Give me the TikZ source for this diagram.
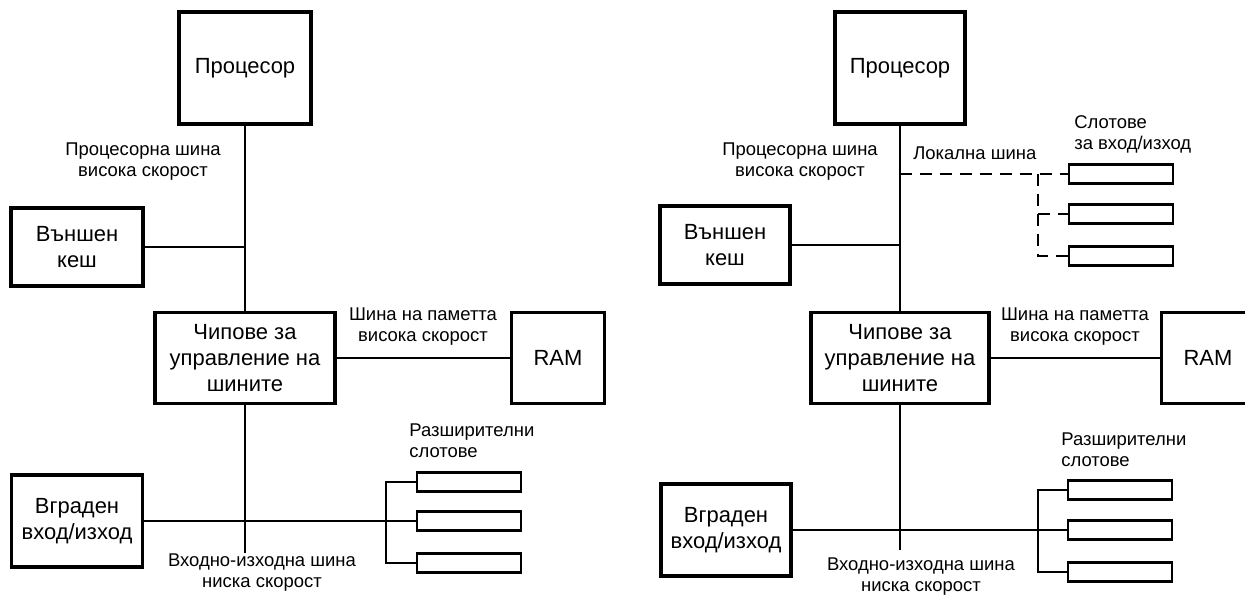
\documentclass[tikz,border=0pt]{standalone}
\usepackage{fontspec}
\setmainfont{Liberation Sans}
\usetikzlibrary{calc}
\tikzset{
  blok/.style={draw,line width=1.9pt,align=center,inner sep=0pt,font=\fontsize{12.5}{15}\selectfont},
  slot/.style={draw,line width=1.6pt,minimum width=2.08cm,minimum height=0.38cm,inner sep=0pt},
  lbl/.style={align=center,inner sep=0pt,font=\fontsize{10.5}{12}\selectfont},
  wire/.style={line width=0.8pt},
  dwire/.style={wire,dash pattern=on 0.24cm off 0.16cm}
}

\begin{document}
\begin{tikzpicture}[x=0.02cm,y=-0.02cm]
  \fill[white] (0,0) rectangle (1245,595);
  \useasboundingbox (0,0) rectangle (1245,595);
  % left: without local bus
  \node[blok,minimum width=2.64cm,minimum height=2.24cm] (cpuL) at (245,68) {Процесор};
  \node[blok,minimum width=2.64cm,minimum height=1.56cm] (cacheL) at (77,247) {Външен\\кеш};
  \node[blok,minimum width=3.6cm,minimum height=1.82cm] (chipsL) at (245,358) {Чипове за\\управление на\\шините};
  \node[blok,minimum width=1.86cm,minimum height=1.82cm] (ramL) at (558,358) {RAM};
  \node[blok,minimum width=2.62cm,minimum height=1.84cm] (ioL) at (77,521) {Вграден\\вход/изход};
  \node[slot] (slotLa) at (469,482) {};
  \node[slot] (slotLb) at (469,521) {};
  \node[slot] (slotLc) at (469,563) {};
  \coordinate (brkL) at (386,521);
  \coordinate (busEndL) at (245,553);
  \node[lbl] (cpubusL) at (143,162) {Процесорна шина\\висока скорост};
  \node[lbl] (membusL) at (423,327) {Шина на паметта\\висока скорост};
  \node[lbl,anchor=west,align=left] (expL) at (409,441) {Разширителни\\слотове};
  \node[lbl] (iobusL) at (262,573) {Входно-изходна шина\\ниска скорост};
  \draw[wire] (cpuL) -- (chipsL);
  \draw[wire] (chipsL) -- (busEndL);
  \draw[wire] (cacheL) -- (cacheL -| cpuL);
  \draw[wire] (chipsL) -- (ramL);
  \draw[wire] (ioL) -- (slotLb);
  \draw[wire] (slotLa) -| (brkL) |- (slotLc);
  % right: with local bus
  \node[blok,minimum width=2.6cm,minimum height=2.24cm] (cpuR) at (900,68) {Процесор};
  \node[blok,minimum width=2.6cm,minimum height=1.56cm] (cacheR) at (725,245) {Външен\\кеш};
  \node[blok,minimum width=3.56cm,minimum height=1.82cm] (chipsR) at (900,358) {Чипове за\\управление на\\шините};
  \node[blok,minimum width=1.86cm,minimum height=1.82cm] (ramR) at (1208,358) {RAM};
  \node[blok,minimum width=2.6cm,minimum height=1.84cm] (ioR) at (726,530) {Вграден\\вход/изход};
  \node[slot] (slotRa) at (1121,174) {};
  \node[slot] (slotRb) at (1121,214) {};
  \node[slot] (slotRc) at (1121,256) {};
  \node[slot] (slotRd) at (1120,490) {};
  \node[slot] (slotRe) at (1120,530) {};
  \node[slot] (slotRf) at (1120,572) {};
  \coordinate (brkRt) at (1038,214);
  \coordinate (brkR) at (1038,530);
  \coordinate (busEndR) at (900,550);
  \node[lbl] (cpubusR) at (800,162) {Процесорна шина\\висока скорост};
  \node[lbl,anchor=west] (localR) at (913,153) {Локална шина};
  \node[lbl,anchor=west,align=left] (ioslotR) at (1074,134) {Слотове\\за вход/изход};
  \node[lbl] (membusR) at (1075,327) {Шина на паметта\\висока скорост};
  \node[lbl,anchor=west,align=left] (expR) at (1061,450) {Разширителни\\слотове};
  \node[lbl] (iobusR) at (921,577) {Входно-изходна шина\\ниска скорост};
  \draw[wire] (cpuR) -- (chipsR);
  \draw[wire] (chipsR) -- (busEndR);
  \draw[wire] (cacheR) -- (cacheR -| cpuR);
  \draw[wire] (chipsR) -- (ramR);
  \draw[wire] (ioR) -- (slotRe);
  \draw[wire] (slotRd) -| (brkR) |- (slotRf);
  \draw[dwire] (cpuR.south |- slotRa) -- (slotRa);
  \draw[dwire] (brkRt |- slotRa) |- (slotRc);
  \draw[dwire] (brkRt) -- (slotRb);
\end{tikzpicture}
\end{document}
